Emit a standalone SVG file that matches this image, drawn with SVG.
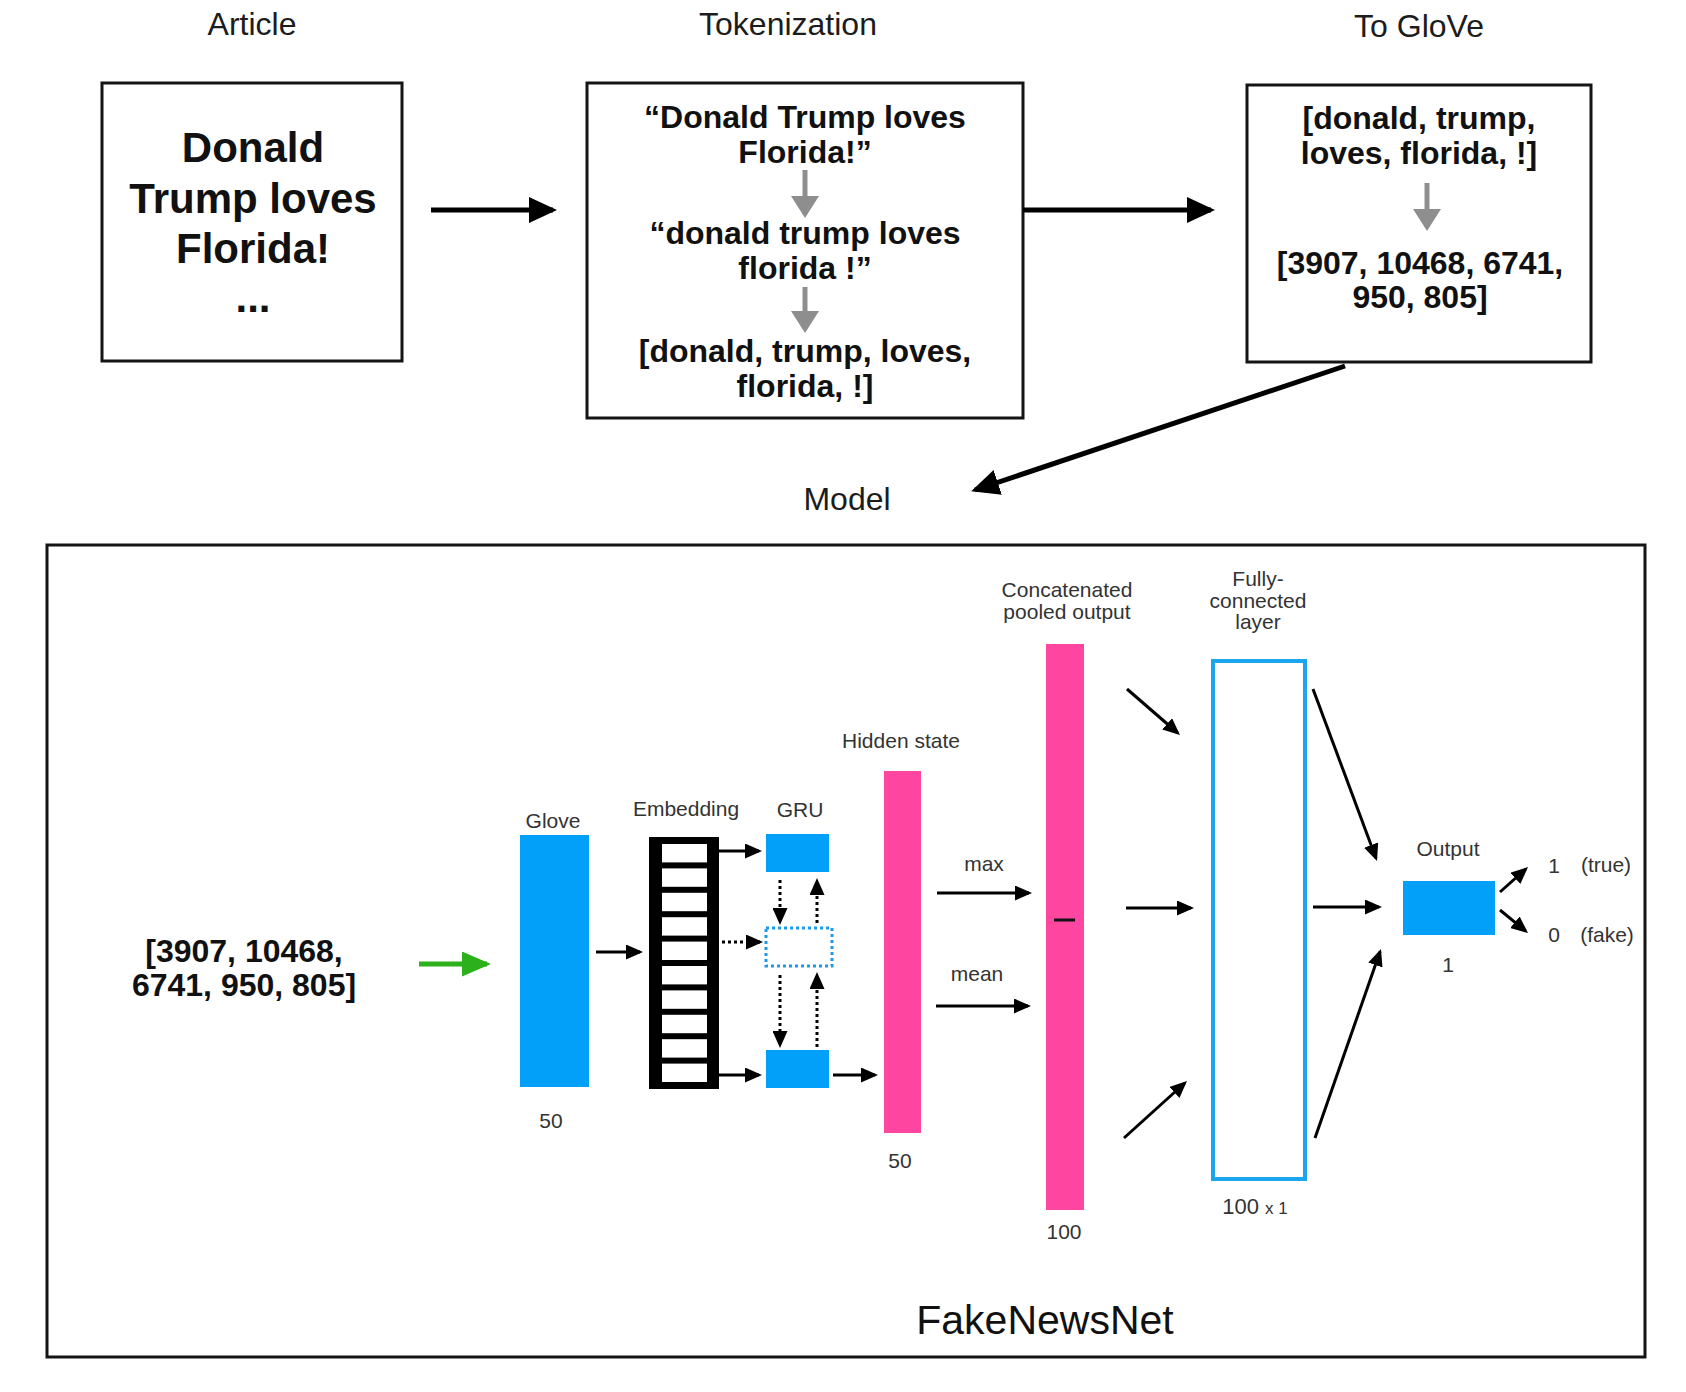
<svg xmlns="http://www.w3.org/2000/svg" width="1686" height="1392" viewBox="0 0 1686 1392">
<defs>
<style>
text{font-family:"Liberation Sans",Arial,Helvetica,sans-serif;text-anchor:middle}
.title{font-size:32px;fill:#1c1c1c}
.big{font-size:42px;font-weight:bold;fill:#111}
.mid{font-size:32px;font-weight:bold;fill:#111}
.sm{font-size:21px;fill:#333}
.box{fill:#fff;stroke:#141414;stroke-width:3}
.blue{fill:#02a0f8}
.pink{fill:#fe46a0}
.ln{stroke:#000;stroke-width:3;fill:none}
.dot{stroke:#000;stroke-width:3;fill:none;stroke-dasharray:3 3}
.bigln{stroke:#000;stroke-width:5;fill:none}
.gray{stroke:#8e8e8e;stroke-width:5;fill:none}
.green{stroke:#2db11b;stroke-width:5;fill:none}
</style>
<marker id="arr" viewBox="0 0 17 15" markerUnits="userSpaceOnUse" markerWidth="17" markerHeight="15" refX="14" refY="7.5" orient="auto"><path d="M0,0 L17,7.5 L0,15 z" fill="#000" stroke="none"/></marker>
<marker id="bigarr" viewBox="0 0 28 26" markerUnits="userSpaceOnUse" markerWidth="28" markerHeight="26" refX="24" refY="13" orient="auto"><path d="M0,0 L28,13 L0,26 z" fill="#000" stroke="none"/></marker>
<marker id="grayarr" viewBox="0 0 22 28" markerUnits="userSpaceOnUse" markerWidth="22" markerHeight="28" refX="18" refY="14" orient="auto"><path d="M0,0 L22,14 L0,28 z" fill="#8e8e8e" stroke="none"/></marker>
<marker id="greenarr" viewBox="0 0 29 25" markerUnits="userSpaceOnUse" markerWidth="29" markerHeight="25" refX="25" refY="12.5" orient="auto"><path d="M0,0 L29,12.5 L0,25 z" fill="#2db11b" stroke="none"/></marker>
</defs>
<rect width="1686" height="1392" fill="#fff"/>

<g id="node-article">
<text class="title" x="252" y="35">Article</text>
<rect class="box" x="102" y="83" width="300" height="278"/>
<text class="big" x="253" y="162">Donald</text>
<text class="big" x="253" y="213">Trump loves</text>
<text class="big" x="253" y="263">Florida!</text>
<text class="big" x="253" y="312">...</text>
</g>

<g id="node-tokenization">
<text class="title" x="788" y="35">Tokenization</text>
<rect class="box" x="587" y="83" width="436" height="335"/>
<text class="mid" x="805" y="128">“Donald Trump loves</text>
<text class="mid" x="805" y="163">Florida!”</text>
<text class="mid" x="805" y="244">“donald trump loves</text>
<text class="mid" x="805" y="279">florida !”</text>
<text class="mid" x="805" y="362">[donald, trump, loves,</text>
<text class="mid" x="805" y="397">florida, !]</text>
<line class="gray" x1="805" y1="170" x2="805" y2="214" marker-end="url(#grayarr)"/>
<line class="gray" x1="805" y1="287" x2="805" y2="329" marker-end="url(#grayarr)"/>
</g>

<g id="node-toglove">
<text class="title" x="1419" y="37">To GloVe</text>
<rect class="box" x="1247" y="85" width="344" height="277"/>
<text class="mid" x="1419" y="129">[donald, trump,</text>
<text class="mid" x="1419" y="164">loves, florida, !]</text>
<text class="mid" x="1420" y="274">[3907, 10468, 6741,</text>
<text class="mid" x="1420" y="308">950, 805]</text>
<line class="gray" x1="1427" y1="183" x2="1427" y2="227" marker-end="url(#grayarr)"/>
</g>

<g id="node-model">
<text class="title" x="847" y="510">Model</text>
<rect class="box" x="47" y="545" width="1598" height="812"/>
<text x="1045" y="1334" style="font-size:41px;fill:#111">FakeNewsNet</text>
</g>

<g id="node-input">
<text class="mid" x="244" y="962">[3907, 10468,</text>
<text class="mid" x="244" y="996">6741, 950, 805]</text>
</g>

<g id="node-glove">
<text class="sm" x="553" y="828">Glove</text>
<rect class="blue" x="520" y="835" width="69" height="252"/>
<text class="sm" x="551" y="1128">50</text>
</g>

<g id="node-embedding">
<text class="sm" x="686" y="816">Embedding</text>
<rect x="649" y="837" width="70" height="252" fill="#000"/>
<g fill="#fff">
<rect x="662" y="844" width="45" height="18.4"/>
<rect x="662" y="868.4" width="45" height="18.4"/>
<rect x="662" y="892.8" width="45" height="18.4"/>
<rect x="662" y="917.2" width="45" height="18.4"/>
<rect x="662" y="941.6" width="45" height="18.4"/>
<rect x="662" y="966" width="45" height="18.4"/>
<rect x="662" y="990.4" width="45" height="18.4"/>
<rect x="662" y="1014.8" width="45" height="18.4"/>
<rect x="662" y="1039.2" width="45" height="18.4"/>
<rect x="662" y="1063.6" width="45" height="18.4"/>
</g>
</g>

<g id="node-gru">
<text class="sm" x="800" y="817">GRU</text>
<rect class="blue" x="766" y="834" width="63" height="38"/>
<rect x="766" y="928" width="66" height="38" fill="none" stroke="#1e9be8" stroke-width="3" stroke-dasharray="3 3"/>
<rect class="blue" x="766" y="1050" width="63" height="38"/>
</g>

<g id="node-hidden">
<text class="sm" x="901" y="748">Hidden state</text>
<rect class="pink" x="884" y="771" width="37" height="362"/>
<text class="sm" x="900" y="1168">50</text>
</g>

<g id="node-concat">
<text class="sm" x="1067" y="597">Concatenated</text>
<text class="sm" x="1067" y="619">pooled output</text>
<rect class="pink" x="1046" y="644" width="38" height="566"/>
<line x1="1054" y1="920" x2="1075" y2="920" stroke="#111" stroke-width="3"/>
<text class="sm" x="1064" y="1239">100</text>
</g>

<g id="node-fc">
<text class="sm" x="1258" y="586">Fully-</text>
<text class="sm" x="1258" y="608">connected</text>
<text class="sm" x="1258" y="629">layer</text>
<rect x="1213" y="661" width="92" height="518" fill="#fff" stroke="#1ea5f0" stroke-width="4"/>
<text class="sm" x="1255" y="1214" style="font-size:22px">100 <tspan style="font-size:17px">x 1</tspan></text>
</g>

<g id="node-output">
<text class="sm" x="1448" y="856">Output</text>
<rect class="blue" x="1403" y="881" width="92" height="54"/>
<text class="sm" x="1448" y="972">1</text>
<text class="sm" x="1554" y="873">1</text>
<text class="sm" x="1606" y="872">(true)</text>
<text class="sm" x="1554" y="942">0</text>
<text class="sm" x="1607" y="942">(fake)</text>
</g>

<g id="connectors">
<line class="bigln" x1="431" y1="210" x2="553" y2="210" marker-end="url(#bigarr)"/>
<line class="bigln" x1="1023" y1="210" x2="1211" y2="210" marker-end="url(#bigarr)"/>
<line class="bigln" x1="1345" y1="366" x2="975" y2="490" marker-end="url(#bigarr)"/>
<line class="green" x1="419" y1="964" x2="487" y2="964" marker-end="url(#greenarr)"/>
<line class="ln" x1="596" y1="952" x2="640" y2="952" marker-end="url(#arr)"/>
<line class="ln" x1="719" y1="851" x2="759" y2="851" marker-end="url(#arr)"/>
<line class="dot" x1="722" y1="942" x2="760" y2="942" marker-end="url(#arr)"/>
<line class="ln" x1="719" y1="1075" x2="759" y2="1075" marker-end="url(#arr)"/>
<line class="dot" x1="780" y1="880" x2="780" y2="922" marker-end="url(#arr)"/>
<line class="dot" x1="817" y1="923" x2="817" y2="881" marker-end="url(#arr)"/>
<line class="dot" x1="780" y1="975" x2="780" y2="1045" marker-end="url(#arr)"/>
<line class="dot" x1="817" y1="1047" x2="817" y2="975" marker-end="url(#arr)"/>
<line class="ln" x1="833" y1="1075" x2="875" y2="1075" marker-end="url(#arr)"/>
<text class="sm" x="984" y="871">max</text>
<line class="ln" x1="937" y1="893" x2="1029" y2="893" marker-end="url(#arr)"/>
<text class="sm" x="977" y="981">mean</text>
<line class="ln" x1="936" y1="1006" x2="1028" y2="1006" marker-end="url(#arr)"/>
<line class="ln" x1="1127" y1="689" x2="1177.7" y2="733" marker-end="url(#arr)"/>
<line class="ln" x1="1126" y1="908" x2="1191" y2="908" marker-end="url(#arr)"/>
<line class="ln" x1="1124" y1="1138" x2="1184.8" y2="1083" marker-end="url(#arr)"/>
<line class="ln" x1="1313" y1="689" x2="1376" y2="858.2" marker-end="url(#arr)"/>
<line class="ln" x1="1313" y1="907" x2="1379" y2="907" marker-end="url(#arr)"/>
<line class="ln" x1="1315" y1="1138" x2="1380" y2="951.8" marker-end="url(#arr)"/>
<line class="ln" x1="1500" y1="892" x2="1525.8" y2="869" marker-end="url(#arr)"/>
<line class="ln" x1="1500" y1="910" x2="1525.7" y2="931.1" marker-end="url(#arr)"/>
</g>
</svg>
